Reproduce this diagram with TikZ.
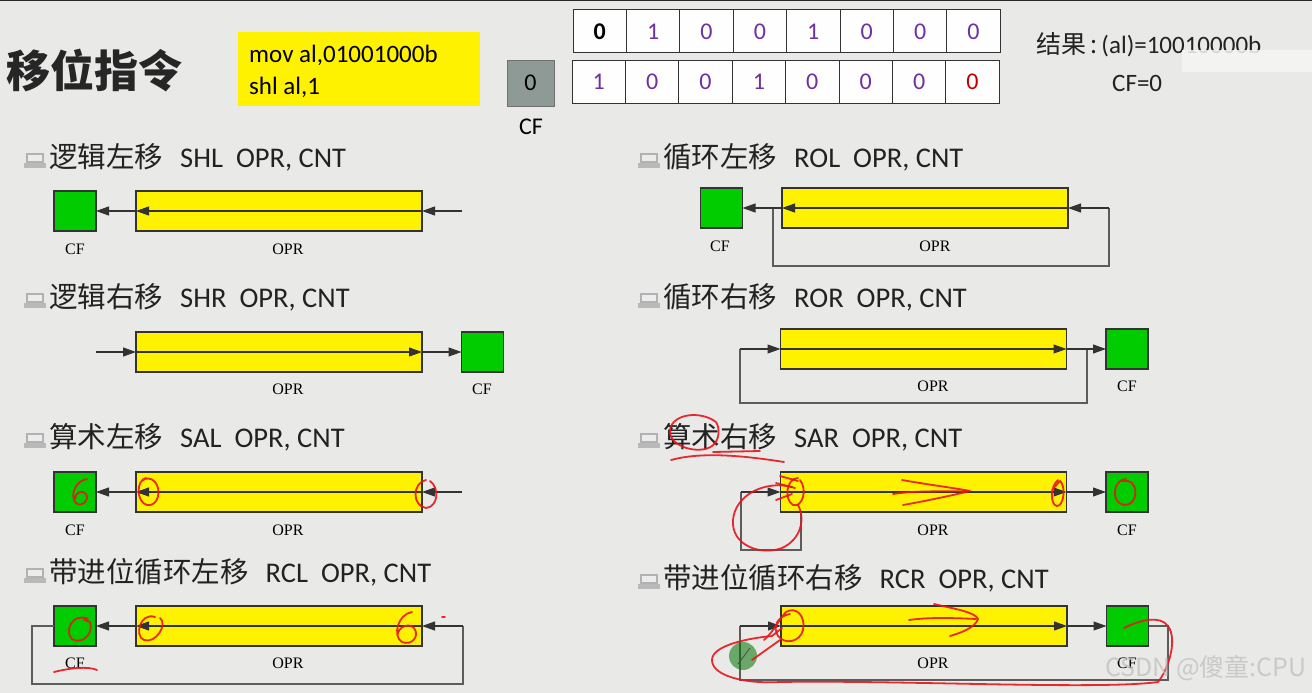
\documentclass[tikz,border=0pt]{standalone}
\usepackage{fontspec}
\setmainfont{Carlito}
\newfontfamily\cjk{Noto Sans CJK SC}
\newfontfamily\serifl{Liberation Serif}
\usetikzlibrary{arrows.meta}
\definecolor{bg}{HTML}{E9EAE7}
\definecolor{ylw}{HTML}{FFF200}
\definecolor{grn}{HTML}{00CC00}
\definecolor{edge}{HTML}{333333}
\definecolor{purp}{HTML}{7030A0}
\definecolor{dred}{HTML}{C00000}
\definecolor{cfgray}{HTML}{8E9A95}
\definecolor{inkred}{HTML}{E8141B}
\definecolor{headc}{HTML}{222222}
\tikzset{
  oprbox/.style={draw=edge, fill=ylw, line width=1.2pt, minimum width=286pt, minimum height=40pt, inner sep=0pt, outer sep=0pt},
  cfbox/.style={draw=edge, fill=grn, line width=1.2pt, minimum width=42pt, minimum height=40pt, inner sep=0pt, outer sep=0pt},
  flow/.style={draw=edge, line width=1.1pt, -{Triangle[length=13pt,width=9pt]}},
  wire/.style={draw=edge!80, line width=1.2pt},
  lbl/.style={font=\serifl\fontsize{16}{16}\selectfont, text=black, inner sep=0pt},
  head/.style={anchor=base west, font=\fontsize{28.5}{28.5}\selectfont, text=headc, inner sep=0pt},
  cell/.style={draw=edge, fill=white!96!bg, line width=1pt, minimum width=53.4pt, minimum height=43pt, inner sep=0pt, font=\fontsize{24}{24}\selectfont, text=purp},
  ink/.style={draw=inkred, line width=1.8pt, line cap=round, line join=round, opacity=.9},
  icon/.pic={
    \fill[gray!55] (-11,-3) rectangle (11,2);
    \draw[gray!60, line width=1.5pt, fill=white!85!gray] (-8,-12) rectangle (8,-4);
  }
}
\newcommand\hd[2]{{\cjk #1}\hspace{17pt}#2}
\begin{document}
\begin{tikzpicture}[x=1pt,y=-1pt]
\useasboundingbox (0,0) rectangle (1312,693);
\fill[bg] (0,0) rectangle (1312,693);
\fill[black!85] (0,0) rectangle (1312,1.5);

% ---------- top area ----------
\node[anchor=west, inner sep=0pt, font=\cjk\bfseries\fontsize{44}{44}\selectfont, text=black!85] (title) at (6,71) {移位指令};
\node[fill=ylw, minimum width=242pt, minimum height=74pt, inner sep=0pt] (code) at (359,69) {};
\node[anchor=base west, inner sep=0pt, font=\fontsize{25}{25}\selectfont] (code1) at (249,63) {mov al,01001000b};
\node[anchor=base west, inner sep=0pt, font=\fontsize{25}{25}\selectfont] (code2) at (249,95) {shl al,1};

\node[draw=edge!70, fill=cfgray, minimum width=47pt, minimum height=46pt, inner sep=0pt, font=\fontsize{24}{24}\selectfont] (gcf) at (530.5,83) {0};
\node[inner sep=0pt, font=\fontsize{24}{24}\selectfont] (gcfl) at (531,127) {CF};

\foreach \v [count=\i] in {0,1,0,0,1,0,0,0} {
  \node[cell] (ra\i) at ({573+26.7+53.4*(\i-1)},31.5) {\v};
}
\node[cell, text=black, font=\bfseries\fontsize{24}{24}\selectfont] at (ra1) {0};
\foreach \v [count=\i] in {1,0,0,1,0,0,0} {
  \node[cell] (rb\i) at ({572+26.7+53.4*(\i-1)},82) {\v};
}
\node[cell, text=dred] (rb8) at ({572+26.7+53.4*7},82) {0};

\node[anchor=west, inner sep=0pt, font=\fontsize{25}{25}\selectfont, text=headc] (res) at (1036,45) {{\cjk 结果}\,{\cjk :}\,(al)=10010000b};
\node[anchor=west, inner sep=0pt, font=\fontsize{25}{25}\selectfont, text=headc] (rescf) at (1112,83) {CF=0};
\fill[white!92!gray, opacity=.85] (1182,50) rectangle (1312,72);

% ---------- headings ----------
\pic at (35,166) {icon};
\pic at (35,306) {icon};
\pic at (35,446) {icon};
\pic at (35,581) {icon};
\pic at (649,166) {icon};
\pic at (649,306) {icon};
\pic at (649,446) {icon};
\pic at (649,587) {icon};
\node[head] (h1) at (49,167) {\hd{逻辑左移}{SHL\hspace{13pt}OPR, CNT}};
\node[head] (h2) at (49,307) {\hd{逻辑右移}{SHR\hspace{13pt}OPR, CNT}};
\node[head] (h3) at (49,447) {\hd{算术左移}{SAL\hspace{13pt}OPR, CNT}};
\node[head] (h4) at (49,582) {\hd{带进位循环左移}{RCL\hspace{13pt}OPR, CNT}};
\node[head] (h5) at (663,167) {\hd{循环左移}{ROL\hspace{13pt}OPR, CNT}};
\node[head] (h6) at (663,307) {\hd{循环右移}{ROR\hspace{13pt}OPR, CNT}};
\node[head] (h7) at (663,447) {\hd{算术右移}{SAR\hspace{13pt}OPR, CNT}};
\node[head] (h8) at (663,588) {\hd{带进位循环右移}{RCR\hspace{13pt}OPR, CNT}};

% ---------- boxes ----------
\node[cfbox] (cf1) at (75,211) {};
\node[oprbox] (op1) at (279,211) {};
\node[oprbox] (op2) at (279,352) {};
\node[cfbox] (cf2) at (482.5,352) {};
\node[cfbox] (cf3) at (75,492) {};
\node[oprbox] (op3) at (279,492) {};
\node[cfbox] (cf4) at (75,626) {};
\node[oprbox] (op4) at (279,626) {};
\node[cfbox] (cf5) at (721.5,208) {};
\node[oprbox] (op5) at (925,208) {};
\node[oprbox] (op6) at (923.5,349) {};
\node[cfbox] (cf6) at (1127,349) {};
\node[oprbox] (op7) at (923.5,492) {};
\node[cfbox] (cf7) at (1127,492) {};
\node[oprbox] (op8) at (924,626) {};
\node[cfbox] (cf8) at (1127.5,626) {};

% labels
\node[lbl] (l1a) at (75,249) {CF};   \node[lbl] (l1b) at (288,249) {OPR};
\node[lbl] (l2a) at (482,389) {CF};  \node[lbl] (l2b) at (288,389) {OPR};
\node[lbl] (l3a) at (75,530) {CF};   \node[lbl] (l3b) at (288,530) {OPR};
\node[lbl] (l4a) at (75,663) {CF};   \node[lbl] (l4b) at (288,663) {OPR};
\node[lbl] (l5a) at (720,246) {CF};  \node[lbl] (l5b) at (935,246) {OPR};
\node[lbl] (l6a) at (1127,386) {CF}; \node[lbl] (l6b) at (933,386) {OPR};
\node[lbl] (l7a) at (1127,530) {CF}; \node[lbl] (l7b) at (933,530) {OPR};
\node[lbl] (l8a) at (1127,663) {CF}; \node[lbl] (l8b) at (933,663) {OPR};

% ---------- connectors ----------
% SHL
\coordinate (in1) at (462,211);
\draw[flow] (in1) -- (op1.east);
\draw[flow] (op1.east) -- (op1.west);
\draw[flow] (op1.west) -- (cf1.east);
% SHR
\coordinate (in2) at (96,352);
\draw[flow] (in2) -- (op2.west);
\draw[flow] (op2.west) -- (op2.east);
\draw[flow] (op2.east) -- (cf2.west);
% SAL
\coordinate (in3) at (462,492);
\draw[flow] (in3) -- (op3.east);
\draw[flow] (op3.east) -- (op3.west);
\draw[flow] (op3.west) -- (cf3.east);
% RCL
\coordinate (r4a) at (463,626);
\coordinate (r4b) at (463,684);
\coordinate (r4c) at (32,684);
\coordinate (r4d) at (32,626);
\draw[wire] (cf4.west) -- (r4d) -- (r4c) -- (r4b) -- (r4a);
\draw[flow] (r4a) -- (op4.east);
\draw[flow] (op4.east) -- (op4.west);
\draw[flow] (op4.west) -- (cf4.east);
% ROL
\coordinate (s5) at (773,208);
\coordinate (r5a) at (773,266);
\coordinate (r5b) at (1109,266);
\coordinate (r5c) at (1109,208);
\draw[wire] (s5) -- (r5a) -- (r5b) -- (r5c);
\draw[flow] (r5c) -- (op5.east);
\draw[flow] (op5.east) -- (op5.west);
\draw[flow] (op5.west) -- (cf5.east);
% ROR
\coordinate (s6) at (1087,349);
\coordinate (r6a) at (1087,403);
\coordinate (r6b) at (740,403);
\coordinate (r6c) at (740,349);
\draw[wire] (s6) -- (r6a) -- (r6b) -- (r6c);
\draw[flow] (r6c) -- (op6.west);
\draw[flow] (op6.west) -- (op6.east);
\draw[flow] (op6.east) -- (cf6.west);
% SAR
\coordinate (s7) at (801,512);
\coordinate (r7a) at (801,550);
\coordinate (r7b) at (741,550);
\coordinate (r7c) at (741,492);
\draw[wire] (s7) -- (r7a) -- (r7b) -- (r7c);
\draw[flow] (r7c) -- (op7.west);
\draw[flow] (op7.west) -- (op7.east);
\draw[flow] (op7.east) -- (cf7.west);
% RCR
\coordinate (r8a) at (1168,626);
\coordinate (r8b) at (1168,680);
\coordinate (r8c) at (740,680);
\coordinate (r8d) at (740,626);
\draw[wire] (cf8.east) -- (r8a) -- (r8b) -- (r8c) -- (r8d);
\draw[flow] (r8d) -- (op8.west);
\draw[flow] (op8.west) -- (op8.east);
\draw[flow] (op8.east) -- (cf8.west);

% ---------- red hand annotations ----------
% SAL
\draw[ink] (87,479) .. controls (74,481) and (70,497) .. (76,503) .. controls (82,508) and (90,500) .. (86,494) .. controls (82,489) and (75,493) .. (75,499);
\draw[ink] (146,478) .. controls (136,480) and (136,502) .. (147,505) .. controls (158,507) and (162,490) .. (155,482) .. controls (152,478) and (145,477) .. (142,481);
\draw[ink] (426,480) .. controls (412,483) and (412,506) .. (426,508) .. controls (438,507) and (440,488) .. (430,481);
% SAR heading
\draw[ink] (716,422) .. controls (700,410) and (672,414) .. (670,430) .. controls (668,447) and (700,455) .. (712,446) .. controls (720,440) and (720,428) .. (716,422);
\draw[ink] (671,460) .. controls (700,452) and (740,455) .. (784,462);
\draw[ink] (713,452) -- (760,451);
% SAR box
\draw[ink] (798,478) .. controls (786,478) and (784,500) .. (793,505) .. controls (802,508) and (808,490) .. (800,480);
\draw[ink] (776,483) -- (795,488);
\draw[ink] (776,500) -- (792,494);
\draw[ink] (780,476) -- (798,481);
\draw[ink] (792,487) .. controls (765,480) and (735,495) .. (733,520) .. controls (731,545) and (760,556) .. (782,548) .. controls (800,540) and (806,520) .. (798,505);
\draw[ink] (893,494) .. controls (920,490) and (945,492) .. (968,491);
\draw[ink] (902,480) .. controls (930,485) and (955,488) .. (970,491) .. controls (950,496) and (920,502) .. (903,505);
\draw[ink] (1058,480) .. controls (1050,486) and (1050,505) .. (1057,506) .. controls (1064,506) and (1066,486) .. (1060,481) -- (1052,490);
\draw[ink] (1126,479) .. controls (1112,480) and (1111,503) .. (1124,505) .. controls (1138,506) and (1139,483) .. (1128,481) -- (1120,481);
% RCL
\draw[ink] (88,619) .. controls (72,612) and (64,632) .. (72,639) .. controls (82,645) and (94,634) .. (90,622) -- (84,620);
\draw[ink] (155,617) .. controls (140,612) and (134,636) .. (144,640) .. controls (156,644) and (168,624) .. (160,618);
\draw[ink] (412,612) .. controls (398,614) and (392,636) .. (402,642) .. controls (412,646) and (420,636) .. (414,628) .. controls (408,622) and (398,628) .. (398,634);
\draw[ink] (442,617) -- (445,617);
\draw[ink] (54,672) .. controls (70,668) and (88,666) .. (97,670);
% RCR
\fill[green!45!black, opacity=.55] (743,656) circle (14);
\draw[black!70, line width=0.8pt] (738,664) -- (750,648);
\draw[ink] (764,640) .. controls (775,630) and (780,618) .. (786,612) .. controls (796,606) and (806,616) .. (803,630) .. controls (800,642) and (785,645) .. (778,636) .. controls (772,626) and (778,616) .. (790,614);
\draw[ink] (780,640) -- (752,660);
\draw[ink] (909,620) .. controls (930,617) and (955,618) .. (976,619);
\draw[ink] (934,604) .. controls (955,609) and (975,612) .. (978,619) .. controls (975,628) and (960,633) .. (950,636);
\draw[ink] (1124,628) .. controls (1140,620) and (1160,615) .. (1168,626) .. controls (1178,640) and (1168,670) .. (1158,682) .. controls (1100,690) and (900,680) .. (780,682) .. controls (745,684) and (712,676) .. (712,660) .. controls (712,645) and (750,638) .. (772,636) -- (782,628);

% watermark
\node[anchor=west, inner sep=0pt, font=\cjk\fontsize{25}{25}\selectfont, text=gray!50, opacity=.75] (wm) at (1105,668) {CSDN @傻童:CPU};
\end{tikzpicture}
\end{document}
